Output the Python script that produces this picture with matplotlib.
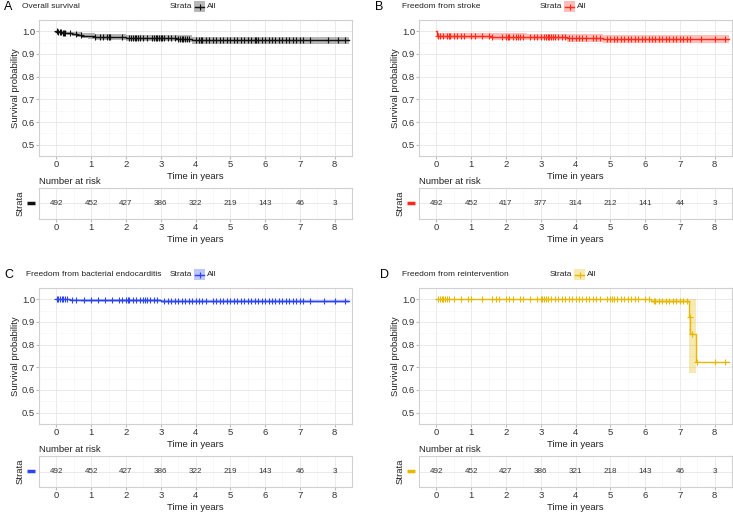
import numpy as np
import matplotlib
matplotlib.use('Agg')
import matplotlib.pyplot as plt
from matplotlib.lines import Line2D
from matplotlib.patches import Rectangle

plt.rcParams['font.family'] = ['Liberation Sans', 'DejaVu Sans']

W, H = 733, 513

# ---- data ----
years = [0, 1, 2, 3, 4, 5, 6, 7, 8]

# A: overall survival
a_time = [0, 0.05, 0.15, 0.3, 0.45, 0.6, 0.75, 0.9, 1.1, 2.0, 2.8, 3.5, 3.9, 8.4]
a_surv = [1.0, 0.997, 0.994, 0.992, 0.989, 0.985, 0.981, 0.978, 0.975, 0.972, 0.970, 0.967, 0.961, 0.961]
a_lo = [1.0, 0.993, 0.988, 0.985, 0.980, 0.975, 0.970, 0.966, 0.963, 0.959, 0.956, 0.952, 0.945, 0.945]
a_hi = [1.0, 1.0, 1.0, 0.999, 0.998, 0.996, 0.993, 0.991, 0.989, 0.986, 0.984, 0.982, 0.977, 0.977]
a_cens = [0.02, 0.06, 0.1, 0.14, 0.18, 0.22, 0.26, 0.4, 0.55, 0.7, 1.1, 1.25, 1.35, 1.45,
          1.5, 1.55, 1.9, 2.1, 2.15, 2.2, 2.25, 2.3, 2.35, 2.4, 2.5, 2.6, 2.75, 2.8, 2.85,
          2.9, 2.95, 3.0, 3.05, 3.1, 3.2, 3.3, 3.4, 3.5, 3.55, 3.6, 3.65, 3.7, 3.75, 3.8,
          4.0, 4.1, 4.15, 4.2, 4.3, 4.4, 4.5, 4.6, 4.7, 4.8, 4.9, 5.0, 5.1, 5.2, 5.3, 5.4,
          5.5, 5.6, 5.7, 5.75, 5.8, 5.9, 6.0, 6.1, 6.2, 6.3, 6.4, 6.5, 6.6, 6.7, 6.8, 6.9,
          7.0, 7.1, 7.3, 7.8, 8.1, 8.3]
a_risk = [492, 452, 427, 386, 322, 219, 143, 46, 3]

# B: freedom from stroke
b_time = [0, 0.02, 1.6, 2.6, 3.75, 4.8, 8.4]
b_surv = [1.0, 0.979, 0.977, 0.975, 0.971, 0.967, 0.967]
b_lo = [1.0, 0.966, 0.963, 0.960, 0.955, 0.950, 0.950]
b_hi = [1.0, 0.992, 0.991, 0.990, 0.987, 0.984, 0.984]
b_cens = [0.05, 0.1, 0.2, 0.3, 0.35, 0.4, 0.5, 0.6, 0.7, 0.8, 1.0, 1.1, 1.3, 1.5, 1.6,
          1.9, 2.0, 2.05, 2.1, 2.2, 2.3, 2.35, 2.4, 2.5, 2.7, 2.8, 2.9, 3.0, 3.1, 3.15,
          3.2, 3.25, 3.3, 3.35, 3.4, 3.5, 3.6, 3.7, 3.8, 3.9, 4.0, 4.1, 4.2, 4.3, 4.5,
          4.6, 4.7, 4.9, 5.0, 5.1, 5.2, 5.3, 5.4, 5.5, 5.6, 5.7, 5.8, 5.9, 6.0, 6.1,
          6.2, 6.3, 6.4, 6.5, 6.6, 6.7, 6.8, 6.9, 7.0, 7.1, 7.2, 7.3, 7.6, 8.0, 8.3]
b_risk = [492, 452, 417, 377, 314, 212, 141, 44, 3]

# C: freedom from bacterial endocarditis
c_time = [0, 0.4, 0.7, 3.0, 8.4]
c_surv = [1.0, 0.998, 0.996, 0.992, 0.992]
c_lo = [1.0, 0.994, 0.990, 0.984, 0.984]
c_hi = [1.0, 1.0, 1.0, 0.999, 0.999]
c_cens = [0.02, 0.05, 0.1, 0.15, 0.2, 0.25, 0.3, 0.45, 0.55, 0.8, 1.0, 1.2, 1.4, 1.6, 1.8,
          1.9, 2.0, 2.05, 2.1, 2.2, 2.3, 2.4, 2.5, 2.55, 2.6, 2.7, 2.8, 2.9, 3.1, 3.2, 3.3,
          3.4, 3.5, 3.6, 3.7, 3.8, 3.9, 4.0, 4.1, 4.2, 4.3, 4.5, 4.6, 4.7, 4.8, 4.9, 5.0,
          5.1, 5.2, 5.3, 5.4, 5.5, 5.6, 5.7, 5.8, 5.9, 6.0, 6.1, 6.2, 6.3, 6.4, 6.5, 6.6,
          6.7, 6.8, 6.9, 7.0, 7.1, 7.3, 7.7, 8.0, 8.3]
c_risk = [492, 452, 427, 386, 322, 219, 143, 46, 3]

# D: freedom from reintervention
d_time = [0, 6.17, 7.27, 7.3, 7.47, 8.4]
d_surv = [1.0, 0.991, 0.921, 0.845, 0.725, 0.725]
d_lo = [1.0, 0.982, 0.676, 0.676, 0.676, np.nan]
d_hi = [1.0, 1.0, 1.0, 1.0, 1.0, np.nan]
d_cens = [0.05, 0.1, 0.15, 0.2, 0.25, 0.3, 0.35, 0.5, 0.7, 0.9, 1.0, 1.3, 1.6, 1.7, 1.8,
          2.0, 2.1, 2.2, 2.4, 2.5, 2.7, 2.9, 3.0, 3.05, 3.1, 3.15, 3.2, 3.3, 3.4, 3.5, 3.6,
          3.7, 3.8, 3.9, 4.0, 4.1, 4.2, 4.3, 4.4, 4.5, 4.6, 4.7, 4.9, 5.0, 5.05, 5.1,
          5.2, 5.3, 5.4, 5.5, 5.6, 5.7, 5.8, 6.0, 6.1, 6.25, 6.3, 6.4, 6.5, 6.6, 6.7,
          6.8, 6.9, 7.0, 7.1, 7.2, 7.28, 7.35, 7.5, 8.0, 8.3]
d_risk = [492, 452, 427, 386, 321, 218, 143, 46, 3]

FS = 6.8
TFS = 6.0
TXT = '#222222'


def frac(x, y):
    return x / W, 1 - y / H


def rect(left, top, right, bottom):
    return [left / W, 1 - bottom / H, (right - left) / W, (bottom - top) / H]


def style(ax):
    ax.set_facecolor('white')
    for s in ax.spines.values():
        s.set_color('#d0d0d0')
        s.set_linewidth(0.8)
    ax.set_xlim(-0.4, 8.4)
    ax.set_xticks(years)
    ax.set_xticks(np.arange(-0.5, 8.6, 0.5), minor=True)
    ax.grid(which='major', color='#e6e6e6', lw=0.6)
    ax.grid(which='minor', color='#f3f3f3', lw=0.4)
    ax.tick_params(which='major', length=2, color='#bbbbbb', labelsize=FS,
                   labelcolor='#333333', pad=0.8)
    ax.tick_params(which='minor', length=0)
    ax.set_axisbelow(True)


def panel(fig, x0, y0, letter, lx, title, tx, sx, time, surv, lo, hi, cens, color, risk):
    left, right = x0 + 39, x0 + 352
    ax = fig.add_axes(rect(left, y0 + 20, right, y0 + 156))
    style(ax)
    ax.set_ylim(0.475, 1.025)
    ax.set_yticks([0.5, 0.6, 0.7, 0.8, 0.9, 1.0])
    ax.set_yticklabels(['0.5', '0.6', '0.7', '0.8', '0.9', '1.0'])
    ax.set_yticks(np.arange(0.45, 1.06, 0.05), minor=True)
    t = np.array(time)
    s = np.array(surv)
    lo = np.array(lo)
    hi = np.array(hi)
    m = ~np.isnan(lo)
    ax.fill_between(t[m], lo[m], hi[m], step='post', color=color, alpha=0.3, lw=0)
    ax.step(t, s, where='post', color=color, lw=1.0)
    idx = np.searchsorted(t, cens, side='right') - 1
    ax.plot(cens, s[idx], ls='none', marker='+', ms=4, mew=0.8, color=color)
    ax.set_xlabel('Time in years', fontsize=FS, color=TXT, labelpad=2)
    fig.text(*frac(x0 + 15, y0 + 88), 'Survival probability', rotation=90,
             ha='center', va='center', fontsize=FS, color=TXT)

    # header row
    fig.text(*frac(lx, y0 + 7), letter, fontsize=9, va='center', ha='left')
    fig.text(*frac(x0 + tx, y0 + 7), title, fontsize=TFS, va='center', ha='left',
             color=TXT)
    fig.text(*frac(x0 + sx, y0 + 7), 'Strata', fontsize=TFS, va='center', ha='left',
             color=TXT)
    kx = x0 + sx + 24
    fig.add_artist(Rectangle(frac(kx, y0 + 12), 11 / W, 11 / H,
                             transform=fig.transFigure, facecolor=color, alpha=0.3, lw=0))
    fig.add_artist(Line2D([(kx + 1) / W, (kx + 10) / W], [1 - (y0 + 6.5) / H] * 2,
                          transform=fig.transFigure, color=color, lw=1.0))
    fig.add_artist(Line2D([(kx + 5.5) / W], [1 - (y0 + 6.5) / H], marker='+', ms=4,
                          mew=0.8, transform=fig.transFigure, color=color))
    fig.text(*frac(kx + 13, y0 + 7), 'All', fontsize=TFS, va='center', ha='left',
             color=TXT)

    # number at risk table
    rax = fig.add_axes(rect(left, y0 + 188, right, y0 + 219))
    style(rax)
    rax.set_ylim(0, 1)
    rax.set_yticks([0.5])
    rax.set_yticklabels([''])
    rax.tick_params(axis='y', length=0)
    for yr, n in zip(years, risk):
        rax.text(yr, 0.5, str(n), ha='center', va='center', fontsize=5.8, color='#333333')
    rax.set_xlabel('Time in years', fontsize=FS, color=TXT, labelpad=2)
    fig.text(*frac(left, y0 + 182), 'Number at risk', fontsize=FS, va='center',
             ha='left', color=TXT)
    fig.text(*frac(x0 + 20, y0 + 203), 'Strata', rotation=90, ha='center', va='center',
             fontsize=FS, color=TXT)
    fig.add_artist(Line2D([(x0 + 27) / W, (x0 + 35) / W], [1 - (y0 + 203) / H] * 2,
                          transform=fig.transFigure, color=color, lw=2.5,
                          solid_capstyle='butt'))


fig = plt.figure(figsize=(W / 100, H / 100), dpi=100)

panel(fig, 0, 0, 'A', 4, 'Overall survival', 22, 170, a_time, a_surv, a_lo, a_hi,
      a_cens, '#111111', a_risk)
panel(fig, 380, 0, 'B', 375, 'Freedom from stroke', 22, 160, b_time, b_surv, b_lo, b_hi,
      b_cens, '#FF2A1A', b_risk)
panel(fig, 0, 268, 'C', 4, 'Freedom from bacterial endocarditis', 26, 170, c_time, c_surv,
      c_lo, c_hi, c_cens, '#2B45F5', c_risk)
panel(fig, 380, 268, 'D', 380, 'Freedom from reintervention', 22, 170, d_time, d_surv,
      d_lo, d_hi, d_cens, '#E7B800', d_risk)

fig.savefig('out.png', dpi=100)
